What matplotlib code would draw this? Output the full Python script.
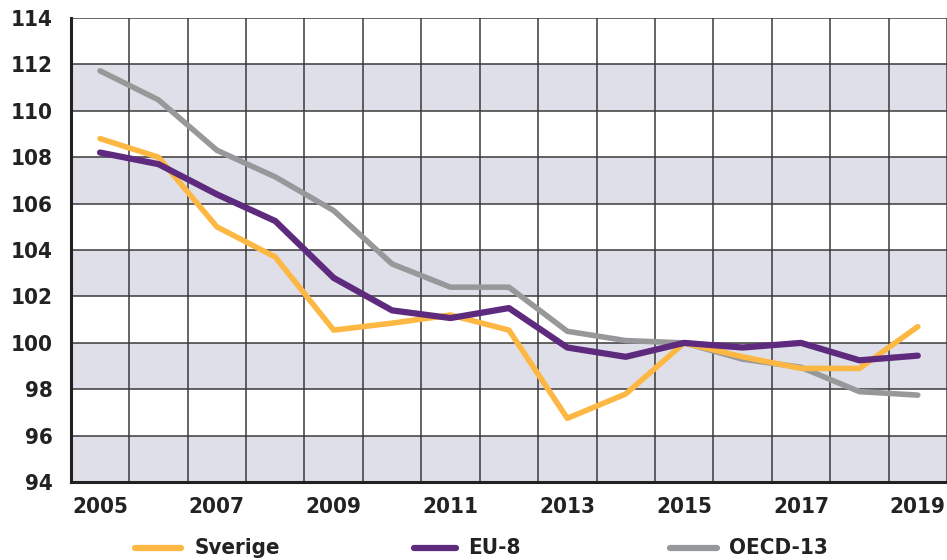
import matplotlib
matplotlib.use("Agg")
import matplotlib.pyplot as plt
from matplotlib.lines import Line2D

years = list(range(2005, 2020))
sverige = [108.8, 108.0, 105.0, 103.7, 100.55, 100.85, 101.2, 100.55, 96.75, 97.8, 100.0, 99.4, 98.9, 98.9, 100.7]
eu8 = [108.2, 107.7, 106.4, 105.25, 102.8, 101.4, 101.07, 101.5, 99.8, 99.4, 100.0, 99.8, 100.0, 99.25, 99.45]
oecd13 = [111.72, 110.47, 108.3, 107.15, 105.7, 103.4, 102.4, 102.4, 100.5, 100.1, 100.0, 99.3, 98.95, 97.9, 97.75]
series_names = ["Sverige", "EU-8", "OECD-13"]
xtick_years = [2005, 2007, 2009, 2011, 2013, 2015, 2017, 2019]
yticks = list(range(94, 115, 2))

colors = ["#FDB743", "#5E2A7E", "#97989A"]
band = "#DFDFE9"
font = ["DejaVu Sans"]
plt.rcParams['font.family'] = font
plt.rcParams['font.weight'] = 'bold'
plt.rcParams['font.stretch'] = 'condensed'

fig = plt.figure(figsize=(9.47, 5.6), dpi=100)
ax = fig.add_axes([0.0748, 0.139, 0.9252, 0.829])
ax.set_xlim(years[0] - 0.5, years[-1] + 0.5)
ax.set_ylim(yticks[0], yticks[-1])

# alternating bands
for i, y0 in enumerate(yticks[:-1]):
    if i % 2 == 0:
        ax.axhspan(y0, y0 + 2, color=band, zorder=0, lw=0)
for y in yticks[1:]:
    ax.axhline(y, color="#3a3a3a", lw=1.1, zorder=1)
for x in years:
    ax.axvline(x + 0.5, color="#3a3a3a", lw=1.1, zorder=1)

lines = {}
lines[2] = ax.plot(years, oecd13, color=colors[2], lw=4, zorder=3, solid_capstyle='round', solid_joinstyle='round')
lines[0] = ax.plot(years, sverige, color=colors[0], lw=4, zorder=4, solid_capstyle='round', solid_joinstyle='round')
lines[1] = ax.plot(years, eu8, color=colors[1], lw=4.5, zorder=5, solid_capstyle='round', solid_joinstyle='round')

for s in ["top", "right"]:
    ax.spines[s].set_visible(False)
for s in ["left", "bottom"]:
    ax.spines[s].set_linewidth(2.2)
    ax.spines[s].set_color("#222222")
    ax.spines[s].set_zorder(6)

ax.set_yticks(yticks)
ax.set_yticklabels([str(v) for v in yticks])
ax.set_xticks(xtick_years)
ax.set_xticklabels([str(v) for v in xtick_years])
ax.tick_params(length=0, labelsize=16, colors="#222222")
ax.tick_params(axis='y', pad=13)
ax.tick_params(axis='x', pad=11)
for lab in ax.get_xticklabels() + ax.get_yticklabels():
    lab.set_fontweight('bold')
    lab.set_fontstretch('condensed')

# legend drawn manually in figure coordinates
W, H = 947.0, 560.0
leg_y = 1 - 548 / H
leg_line_x = [(135, 181), (414, 456), (670, 717)]
leg_text_x = [195, 468, 729]
for (x0, x1), tx, c, name in zip(leg_line_x, leg_text_x, colors, series_names):
    fig.add_artist(Line2D([x0 / W, x1 / W], [leg_y, leg_y], color=c, lw=4.5,
                          solid_capstyle='round', transform=fig.transFigure))
    fig.text(tx / W, leg_y, name, ha='left', va='center', fontsize=16,
             fontweight='bold', fontstretch='condensed', color="#222222")

fig.savefig("out.png", dpi=100)
